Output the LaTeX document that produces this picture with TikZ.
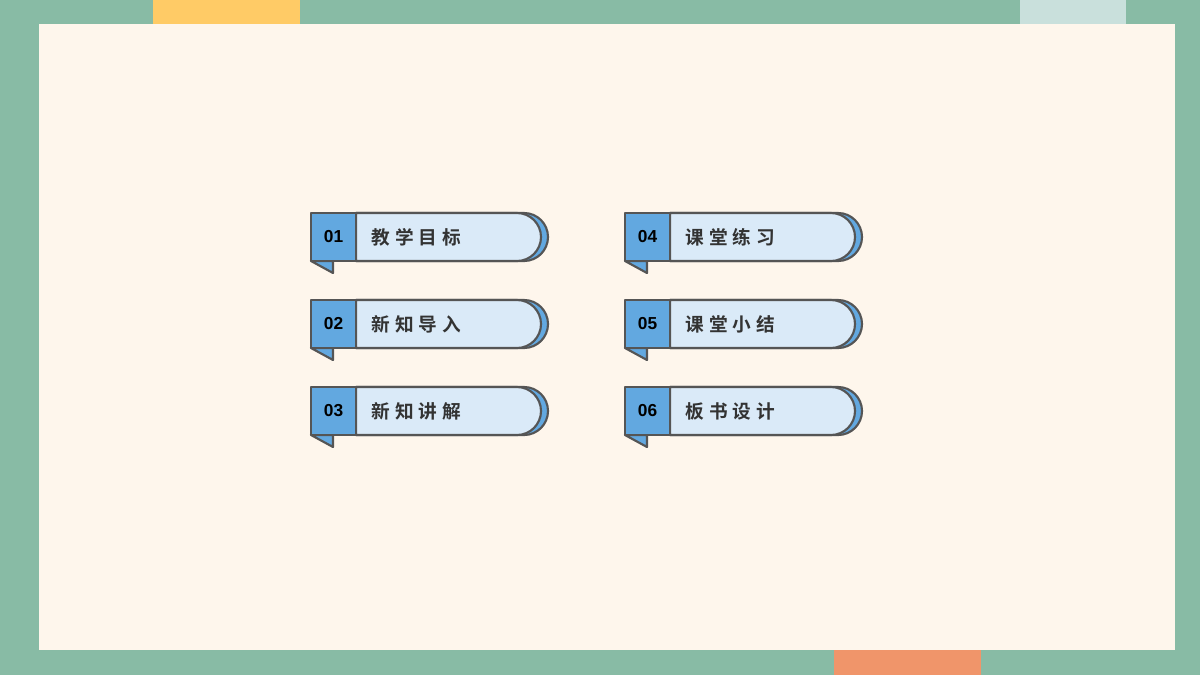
\documentclass[tikz,border=0pt]{standalone}
\usepackage{fontspec}
\newfontfamily\cjk[BoldFont={Noto Sans CJK SC Bold},LetterSpace=26]{Noto Sans CJK SC}
\newfontfamily\numf{Liberation Sans}
\definecolor{bg}{HTML}{88BBA5}
\definecolor{cream}{HTML}{FEF6EC}
\definecolor{tyel}{HTML}{FFCB66}
\definecolor{tlight}{HTML}{C9E0DC}
\definecolor{torange}{HTML}{F0956A}
\definecolor{lb}{HTML}{DAEAF8}
\definecolor{mb}{HTML}{62A8E0}
\definecolor{bd}{HTML}{555555}
\tikzset{edge/.style={draw=bd,line width=1.6pt,line join=round},
 numtxt/.style={font=\numf\bfseries\fontsize{13}{15}\selectfont,text=black},
 labtxt/.style={font=\cjk\bfseries\fontsize{14}{16}\selectfont,text=bd!60!black,anchor=west}}
\newcommand{\menuitem}[4]{%
 \begin{scope}[shift={(#1,#2)}]
 \fill[mb,edge] (45,0) -- (213,0) arc(-90:90:24) -- (45,48) -- cycle;
 \fill[lb,edge] (45,0) -- (206,0) arc(-90:90:24) -- (45,48) -- cycle;
 \fill[mb,edge] (0,48) -- (22,60) -- (22,48) -- cycle;
 \fill[mb,edge] (0,0) rectangle (45,48);
 \node[numtxt] (n#3) at (22.5,24) {#3};
 \node[labtxt] (l#3) at (56,24) {#4};
 \end{scope}}
\begin{document}
\begin{tikzpicture}[x=0.75pt,y=-0.75pt]
\useasboundingbox (0,0) rectangle (1200,675);
\fill[bg] (0,0) rectangle (1200,675);
\fill[cream] (39,24) rectangle (1175,650);
\fill[tyel] (153,0) rectangle (300,24);
\fill[tlight] (1020,0) rectangle (1126,24);
\fill[torange] (834,650) rectangle (981,675);
\menuitem{311}{213}{01}{教学目标}
\menuitem{311}{300}{02}{新知导入}
\menuitem{311}{387}{03}{新知讲解}
\menuitem{625}{213}{04}{课堂练习}
\menuitem{625}{300}{05}{课堂小结}
\menuitem{625}{387}{06}{板书设计}
\end{tikzpicture}
\end{document}
